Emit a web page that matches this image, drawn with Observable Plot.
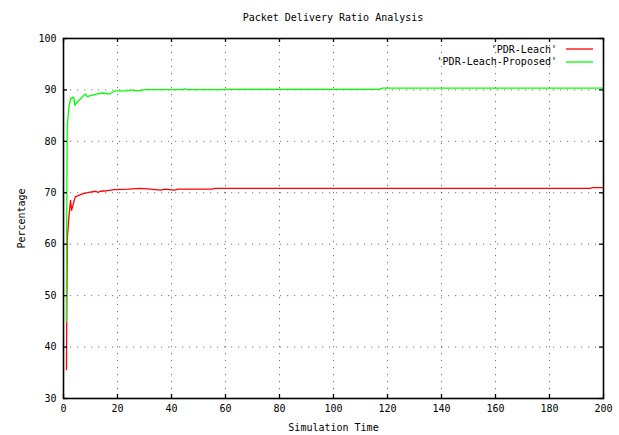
<!DOCTYPE html>
<html><head><meta charset="utf-8">
<script src="https://cdn.jsdelivr.net/npm/d3@7"></script>
<script src="https://cdn.jsdelivr.net/npm/@observablehq/plot@0.6"></script>
<style>
body{margin:0;background:#fff;font-family:"DejaVu Sans Mono",monospace;color:#000;}
#wrap{position:relative;width:619px;height:435px;overflow:hidden;}
#title{height:30px;box-sizing:border-box;padding:12px 16px 0 63px;text-align:center;font-size:10px;line-height:12px;white-space:nowrap;}
#chart svg{display:block;}
#legend{position:absolute;left:380px;width:213px;top:43px;font-size:10px;}
.row{display:flex;justify-content:flex-end;align-items:center;height:12.5px;white-space:nowrap;}
.row svg{margin-left:9px;display:block;}
</style></head><body>
<div id="wrap"><div id="title"></div><div id="chart"></div><div id="legend"></div></div>
<script>
const title = "Packet Delivery Ratio Analysis";
const xLabel = "Simulation Time";
const yLabel = "Percentage";
const seriesNames = ["'PDR-Leach'", "'PDR-Leach-Proposed'"];
const seriesColors = ["#ff0000", "#00ff00"];
const xTicks = [0, 20, 40, 60, 80, 100, 120, 140, 160, 180, 200];
const yTicks = [30, 40, 50, 60, 70, 80, 90, 100];

const leachTime = [1.1, 1.2, 1.4, 2.0, 2.6, 3.0, 3.8, 4.4, 6.9, 9.4, 12, 12.6, 13.7, 16, 19, 24, 28.5, 31, 36, 37.5, 41, 42.5, 55, 56, 195, 196, 200];
const leachPDR  = [35.6, 45.0, 61.1, 65.3, 68.5, 66.6, 68.2, 69.2, 69.8, 70.1, 70.3, 70.1, 70.3, 70.4, 70.6, 70.7, 70.85, 70.75, 70.5, 70.7, 70.5, 70.7, 70.7, 70.85, 70.85, 71.0, 71.0];

const proposedTime = [1.05, 1.3, 1.4, 2.0, 2.6, 3.8, 4.2, 5.1, 6.9, 8.1, 8.8, 10, 13, 15, 17, 19, 24, 24.5, 26, 28, 30, 44, 45, 46, 59, 60, 117, 118, 200];
const proposedPDR  = [45.0, 77.8, 83.1, 86.5, 88.3, 88.6, 87.0, 87.6, 88.6, 89.2, 88.7, 88.9, 89.3, 89.4, 89.2, 89.8, 89.8, 90.0, 89.9, 89.8, 90.05, 90.05, 90.2, 90.05, 90.05, 90.1, 90.1, 90.35, 90.35];

document.getElementById("title").textContent = title;

const W = 619, H = 405, mL = 63, mR = 16, mT = 8, mB = 37;
const innerH = H - mT - mB, innerW = W - mL - mR, tickLen = 4;

const leach = leachTime.map((t, i) => ({t, v: leachPDR[i]}));
const proposed = proposedTime.map((t, i) => ({t, v: proposedPDR[i]}));
const tickStyle = {stroke: "#000", strokeWidth: 1.3};

const chart = Plot.plot({
  width: W, height: H,
  marginLeft: mL, marginRight: mR, marginTop: mT, marginBottom: mB,
  style: {fontFamily: "DejaVu Sans Mono", fontSize: "10px", color: "#000", background: "#fff", overflow: "visible"},
  x: {domain: [0, 200]},
  y: {domain: [30, 100]},
  marks: [
    Plot.gridX(xTicks.filter(d => d > 0 && d < 200), {stroke: "#000", strokeOpacity: 0.55, strokeDasharray: "1.2,5.8"}),
    Plot.gridY(yTicks.filter(d => d > 30 && d < 100), {stroke: "#000", strokeOpacity: 0.55, strokeDasharray: "1.2,5.8"}),
    Plot.line(leach, {x: "t", y: "v", stroke: seriesColors[0], strokeWidth: 1.3}),
    Plot.line(proposed, {x: "t", y: "v", stroke: seriesColors[1], strokeWidth: 1.3}),
    Plot.tickX(xTicks, {x: d => d, insetTop: innerH - tickLen, ...tickStyle}),
    Plot.tickX(xTicks, {x: d => d, insetBottom: innerH - tickLen, ...tickStyle}),
    Plot.tickY(yTicks, {y: d => d, insetRight: innerW - tickLen, ...tickStyle}),
    Plot.tickY(yTicks, {y: d => d, insetLeft: innerW - tickLen, ...tickStyle}),
    Plot.axisX(xTicks, {tickSize: 0, tickPadding: 6, label: null, fill: "#000"}),
    Plot.axisY(yTicks, {tickSize: 0, tickPadding: 7, label: null, fill: "#000"}),
    Plot.frame({stroke: "#000", strokeWidth: 1.6}),
    Plot.text([xLabel], {frameAnchor: "bottom", dy: 29, lineAnchor: "middle", textAnchor: "middle", fill: "#000"}),
    Plot.text([yLabel], {frameAnchor: "left", dx: -42, rotate: -90, textAnchor: "middle", lineAnchor: "middle", fill: "#000"})
  ]
});
document.getElementById("chart").appendChild(chart);

const legend = document.getElementById("legend");
seriesNames.forEach((name, i) => {
  const row = document.createElement("div");
  row.className = "row";
  const span = document.createElement("span");
  span.textContent = name;
  row.appendChild(span);
  const ns = "http://www.w3.org/2000/svg";
  const s = document.createElementNS(ns, "svg");
  s.setAttribute("width", "27"); s.setAttribute("height", "4");
  const l = document.createElementNS(ns, "line");
  l.setAttribute("x1", "0"); l.setAttribute("x2", "27");
  l.setAttribute("y1", "2"); l.setAttribute("y2", "2");
  l.setAttribute("stroke", seriesColors[i]); l.setAttribute("stroke-width", "1.3");
  s.appendChild(l);
  row.appendChild(s);
  legend.appendChild(row);
});
</script>
</body></html>
